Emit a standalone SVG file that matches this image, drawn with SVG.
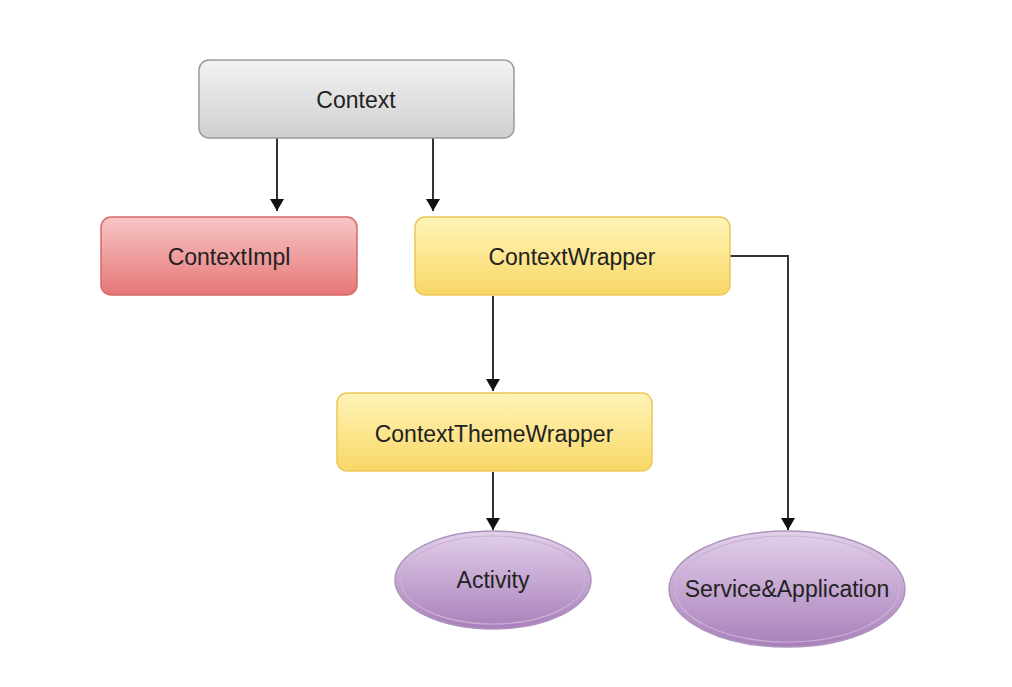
<svg xmlns="http://www.w3.org/2000/svg" width="1012" height="687" viewBox="0 0 1012 687">
<defs>
<linearGradient id="gGray" x1="0" y1="0" x2="0" y2="1"><stop offset="0" stop-color="#f2f2f2"/><stop offset="1" stop-color="#cfcfcf"/></linearGradient>
<linearGradient id="gRed" x1="0" y1="0" x2="0" y2="1"><stop offset="0" stop-color="#f7c6c6"/><stop offset="1" stop-color="#e67676"/></linearGradient>
<linearGradient id="gYel" x1="0" y1="0" x2="0" y2="1"><stop offset="0" stop-color="#fff5b8"/><stop offset="1" stop-color="#f9d766"/></linearGradient>
<linearGradient id="gPur" x1="0" y1="0" x2="0" y2="1"><stop offset="0" stop-color="#e2d0ea"/><stop offset="1" stop-color="#a97fbb"/></linearGradient>
<marker id="arr" viewBox="0 0 12 14" refX="12" refY="7" markerWidth="12" markerHeight="14" markerUnits="userSpaceOnUse" orient="auto"><path d="M0,0 L12,7 L0,14 z" fill="#111"/></marker>
</defs>
<style>
text{font-family:"Liberation Sans",Arial,sans-serif;font-size:23px;fill:#222;text-anchor:middle;dominant-baseline:central}
.gray{fill:url(#gGray);stroke:#9a9a9a;stroke-width:1.5}
.red{fill:url(#gRed);stroke:#d46a6a;stroke-width:1.5}
.yel{fill:url(#gYel);stroke:#ecc85a;stroke-width:1.5}
.pur{fill:url(#gPur);stroke:#ad94bb;stroke-width:1.5}
.inner{fill:none;stroke:#c9b2d3;stroke-width:1.2}
.edge{fill:none;stroke:#333;stroke-width:2;marker-end:url(#arr)}
</style>
<rect width="1012" height="687" fill="#ffffff"/>
<g id="connectors">
<path class="edge" d="M277,138 L277,211"/>
<path class="edge" d="M433,138 L433,211"/>
<path class="edge" d="M493,296 L493,391"/>
<path class="edge" d="M493,472 L493,530"/>
<path class="edge" d="M730,256 L788,256 L788,530"/>
</g>
<g id="node-context">
<rect class="gray" x="199" y="60" width="315" height="78" rx="10"/>
<text x="356" y="100">Context</text>
</g>
<g id="node-contextimpl">
<rect class="red" x="101" y="217" width="256" height="78" rx="10"/>
<text x="229" y="257">ContextImpl</text>
</g>
<g id="node-contextwrapper">
<rect class="yel" x="415" y="217" width="315" height="78" rx="10"/>
<text x="572" y="257">ContextWrapper</text>
</g>
<g id="node-contextthemewrapper">
<rect class="yel" x="337" y="393" width="315" height="78" rx="10"/>
<text x="494" y="434">ContextThemeWrapper</text>
</g>
<g id="node-activity">
<ellipse class="pur" cx="493" cy="580" rx="98" ry="49"/>
<ellipse class="inner" cx="493" cy="580" rx="92" ry="44"/>
<text x="493" y="580">Activity</text>
</g>
<g id="node-service">
<ellipse class="pur" cx="787" cy="589" rx="118" ry="58"/>
<ellipse class="inner" cx="787" cy="589" rx="112" ry="53"/>
<text x="787" y="589">Service&amp;Application</text>
</g>
</svg>
